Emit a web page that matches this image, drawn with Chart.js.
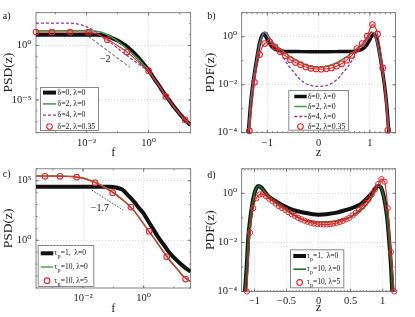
<!DOCTYPE html>
<html>
<head>
<meta charset="utf-8">
<script src="https://cdn.jsdelivr.net/npm/chart.js@4.4.0/dist/chart.umd.min.js"></script>
<style>
  html, body { margin: 0; padding: 0; background: #fff; }
  #wrap { position: relative; width: 415px; height: 317px; overflow: hidden; }
  canvas { position: absolute; }
</style>
</head>
<body>
<div id="wrap">
  <canvas id="chartA" width="200" height="162" style="left:0;top:0"></canvas>
  <canvas id="chartB" width="215" height="162" style="left:200px;top:0"></canvas>
  <canvas id="chartC" width="200" height="159" style="left:0;top:158px"></canvas>
  <canvas id="chartD" width="215" height="159" style="left:200px;top:158px"></canvas>
</div>
<script>
const SERIF = "'Liberation Serif', 'DejaVu Serif', serif";

/* Panel a - PSD, delta / lambda */
const fA = [2.34e-4, 5e-4, 1e-3, 2e-3, 5e-3, 0.01, 0.02, 0.03, 0.05, 0.07, 0.1, 0.15, 0.2, 0.3, 0.5, 0.7, 1, 1.5, 2, 3, 5, 7, 10, 15, 22.9];
const psdA_d0 = [9.5, 9.5, 9.5, 9.5, 9.5, 9.5, 9.4, 8.9, 6.6, 4.5, 2.8, 1.4, 0.8, 0.28, 0.063, 0.019, 5.6e-3, 9.5e-4, 3e-4, 5.2e-5, 7e-6, 1.9e-6, 5.6e-7, 1.5e-7, 5e-8];
const psdA_d2 = [22, 22, 22, 22, 22, 22, 20, 16, 8.9, 5, 2.5, 1.0, 0.5, 0.18, 0.045, 0.016, 5e-3, 8.9e-4, 2.8e-4, 5e-5, 7e-6, 1.9e-6, 5.6e-7, 1.5e-7, 5e-8];
const psdA_d4 = [112, 112, 112, 112, 95, 52, 17.8, 6.3, 2.8, 1.26, 0.56, 0.22, 0.126, 0.05, 0.018, 8.9e-3, 4e-3, 8.9e-4, 2.8e-4, 5e-5, 7e-6, 1.9e-6, 5.6e-7, 1.5e-7, 5e-8];
const psdA_d2l = [17, 17, 17, 17, 17, 16.6, 12.6, 7.1, 3.3, 1.8, 1.0, 0.45, 0.25, 0.1, 0.025, 0.011, 4.8e-3, 8.9e-4, 2.8e-4, 5e-5, 7e-6, 1.9e-6, 5.6e-7, 1.5e-7, 5e-8];
const fA_marks = [2.34e-4, 7.6e-4, 2.95e-3, 0.0115, 0.047, 0.2, 1.0, 3.6, 15.1];
const psdA_marks = [17, 17, 17, 16.5, 3.3, 0.25, 4.8e-3, 2.1e-5, 1.5e-7];
const slopeA_f = [0.0115, 0.25];
const slopeA_psd = [6.8, 0.01];
const xTicksA = [1e-2, 1];
const yTicksA = [1e-5, 1];

/* Panel b - PDF, delta / lambda */
const zB_d0 = [-1.37, -1.33, -1.29, -1.25, -1.21, -1.16, -1.12, -1.08, -1.04, -1.0, -0.95, -0.9, -0.82, -0.7, -0.4, 0, 0.4, 0.7, 0.82, 0.9, 0.95, 1.0, 1.04, 1.08, 1.12, 1.16, 1.21, 1.25, 1.29, 1.33, 1.37];
const pdfB_d0 = [1e-4, 1.3e-3, 8e-3, 0.032, 0.11, 0.45, 0.95, 1.3, 1.1, 0.76, 0.5, 0.36, 0.28, 0.25, 0.24, 0.235, 0.24, 0.25, 0.28, 0.36, 0.5, 0.76, 1.1, 1.3, 0.95, 0.45, 0.11, 0.032, 8e-3, 1.3e-3, 1e-4];
const zB_d2 = [-1.37, -1.33, -1.29, -1.25, -1.2, -1.15, -1.1, -1.06, -1.03, -1.0, -0.97, -0.92, -0.87, -0.77, -0.64, -0.51, -0.38, -0.26, -0.13, 0, 0.13, 0.26, 0.38, 0.51, 0.64, 0.77, 0.87, 0.92, 0.97, 1.0, 1.03, 1.06, 1.1, 1.15, 1.2, 1.25, 1.29, 1.33, 1.37];
const pdfB_d2 = [1e-4, 1.3e-3, 8e-3, 0.032, 0.13, 0.5, 1.05, 1.5, 1.55, 1.3, 1.0, 0.7, 0.5, 0.34, 0.2, 0.13, 0.09, 0.068, 0.057, 0.052, 0.057, 0.068, 0.09, 0.13, 0.2, 0.34, 0.5, 0.7, 1.0, 1.3, 1.55, 1.5, 1.05, 0.5, 0.13, 0.032, 8e-3, 1.3e-3, 1e-4];
const zB_d4 = [-1.37, -1.33, -1.29, -1.25, -1.2, -1.15, -1.1, -1.06, -1.03, -1.0, -0.97, -0.92, -0.87, -0.77, -0.68, -0.58, -0.48, -0.39, -0.2, 0, 0.2, 0.39, 0.48, 0.58, 0.68, 0.77, 0.87, 0.92, 0.97, 1.0, 1.03, 1.06, 1.1, 1.15, 1.2, 1.25, 1.29, 1.33, 1.37];
const pdfB_d4 = [1e-4, 1.3e-3, 8e-3, 0.032, 0.13, 0.5, 1.1, 1.55, 1.6, 1.35, 1.0, 0.65, 0.45, 0.29, 0.13, 0.06, 0.033, 0.019, 0.01, 0.0085, 0.01, 0.019, 0.033, 0.06, 0.13, 0.29, 0.45, 0.65, 1.0, 1.35, 1.6, 1.55, 1.1, 0.5, 0.13, 0.032, 8e-3, 1.3e-3, 1e-4];
const zB_d2l = [-1.35, -1.25, -1.15, -1.05, -0.95, -0.85, -0.75, -0.65, -0.55, -0.45, -0.35, -0.25, -0.15, -0.05, 0.05, 0.15, 0.25, 0.35, 0.45, 0.55, 0.65, 0.75, 0.85, 0.95, 1.05, 1.15, 1.25, 1.35];
const pdfB_d2l = [1.2e-4, 0.0126, 0.18, 0.52, 0.6, 0.38, 0.24, 0.16, 0.11, 0.085, 0.068, 0.055, 0.048, 0.045, 0.044, 0.046, 0.05, 0.059, 0.074, 0.105, 0.166, 0.32, 0.52, 1.05, 3.2, 1.3, 0.05, 1.26e-4];
const xTicksB = [-1, 0, 1];
const yTicksB = [1e-4, 1e-2, 1];

/* Panel c - PSD, tau_p / lambda */
const fC = [2.82e-4, 5e-4, 1e-3, 2e-3, 5e-3, 0.01, 0.02, 0.03, 0.05, 0.07, 0.1, 0.15, 0.2, 0.3, 0.5, 0.7, 1, 1.5, 2, 3, 5, 7, 10, 15, 20, 35.5];
const psdC_tp1 = [31600, 31600, 31600, 31600, 31600, 31600, 31600, 31600, 31600, 30900, 29500, 23400, 17800, 6300, 1550, 510, 174, 31.6, 10, 1.86, 0.316, 0.093, 0.035, 0.013, 6.8e-3, 2.4e-3];
const psdC_tp10 = [2.6e5, 2.6e5, 2.6e5, 2.55e5, 2.3e5, 1.75e5, 9.5e4, 6.2e4, 3.0e4, 1.85e4, 1.04e4, 4800, 2700, 1120, 280, 88, 25, 5.8, 2.25, 0.5, 0.08, 0.025, 8.5e-3, 2.5e-3, 1.07e-3, 3.6e-4];
const psdC_tp10l = [2.34e5, 2.34e5, 2.34e5, 2.29e5, 2.09e5, 1.58e5, 8.5e4, 5.5e4, 2.7e4, 1.66e4, 9300, 4270, 2400, 1000, 251, 79, 22.4, 5.2, 2.0, 0.45, 0.071, 0.022, 7.6e-3, 2.2e-3, 9.5e-4, 3.2e-4];
const fC_marks = [5.6e-4, 1.74e-3, 6.2e-3, 0.025, 0.095, 0.38, 1.51, 5.75, 24];
const psdC_marks = [2.34e5, 2.34e5, 2.0e5, 6.8e4, 1.0e4, 620, 5.8, 0.042, 5.6e-4];
const slopeC_f = [0.0195, 0.21];
const slopeC_psd = [16200, 350];
const xTicksC = [1e-2, 1];
const yTicksC = [1, 1e5];

/* Panel d - PDF, tau_p / lambda */
const zD_tp1 = [-1.15, -1.12, -1.1, -1.07, -1.04, -1.0, -0.97, -0.94, -0.9, -0.85, -0.78, -0.65, -0.53, -0.4, -0.26, 0, 0.26, 0.4, 0.52, 0.65, 0.73, 0.83, 0.93, 0.98, 1.03, 1.07, 1.1, 1.13, 1.15];
const pdfD_tp1 = [1e-4, 1.3e-3, 0.013, 0.08, 0.3, 1.0, 1.66, 2.0, 1.8, 1.26, 0.74, 0.45, 0.3, 0.21, 0.17, 0.135, 0.16, 0.2, 0.25, 0.35, 0.54, 1.0, 2.0, 1.6, 0.5, 0.1, 0.0126, 1e-3, 1e-4];
const zD_tp10 = [-1.15, -1.12, -1.1, -1.07, -1.04, -1.0, -0.97, -0.94, -0.9, -0.85, -0.78, -0.65, -0.53, -0.4, -0.26, -0.13, 0, 0.13, 0.26, 0.4, 0.52, 0.65, 0.73, 0.83, 0.93, 0.98, 1.03, 1.07, 1.1, 1.13, 1.15];
const pdfD_tp10 = [1e-4, 1.3e-3, 0.013, 0.08, 0.3, 1.0, 1.66, 2.0, 1.8, 1.26, 0.7, 0.4, 0.25, 0.14, 0.089, 0.074, 0.068, 0.069, 0.074, 0.089, 0.117, 0.2, 0.3, 0.7, 2.0, 1.6, 0.5, 0.1, 0.0126, 1e-3, 1e-4];
const zD_tp10l = [-1.12, -1.07, -1.02, -0.97, -0.92, -0.87, -0.82, -0.77, -0.72, -0.67, -0.62, -0.57, -0.52, -0.47, -0.42, -0.37, -0.32, -0.27, -0.22, -0.17, -0.12, -0.07, -0.02, 0.03, 0.08, 0.13, 0.18, 0.23, 0.28, 0.33, 0.38, 0.43, 0.48, 0.53, 0.58, 0.63, 0.68, 0.73, 0.78, 0.83, 0.88, 0.93, 0.98, 1.03, 1.08, 1.13, 1.18];
const pdfD_tp10l = [1e-4, 0.025, 0.25, 0.63, 0.91, 0.93, 0.76, 0.6, 0.48, 0.38, 0.3, 0.25, 0.21, 0.17, 0.14, 0.12, 0.1, 0.088, 0.077, 0.069, 0.063, 0.059, 0.056, 0.055, 0.054, 0.054, 0.055, 0.058, 0.062, 0.068, 0.076, 0.087, 0.1, 0.126, 0.16, 0.21, 0.28, 0.4, 0.56, 0.9, 1.4, 2.4, 3.8, 3.0, 0.25, 4e-3, 1e-4];
const xTicksD = [-1, -0.5, 0, 0.5, 1];
const yTicksD = [1e-4, 1e-2, 1];

const RED = '#e0262c';
const PURPLE = '#8b3a9c';
const BLACK = '#111111';

function pts(xs, ys) {
  return xs.map(function(x, i) { return {x: x, y: ys[i]}; });
}

const SUP = {'0': '⁰', '1': '¹', '2': '²', '3': '³', '4': '⁴', '5': '⁵', '6': '⁶', '7': '⁷', '8': '⁸', '9': '⁹', '-': '⁻'};
function pow10Label(v) {
  const e = String(Math.round(Math.log10(v)));
  return '10' + e.split('').map(function(c) { return SUP[c]; }).join('');
}
function linLabel(v) {
  return v < 0 ? '\u2212' + Math.abs(v) : String(v);
}

// label text, '_p' is drawn as subscript p
function drawLabel(ctx, text, x, y, size) {
  ctx.fillStyle = '#111';
  ctx.textBaseline = 'middle';
  ctx.textAlign = 'left';
  const parts = text.split('_p');
  ctx.font = size + 'px ' + SERIF;
  ctx.fillText(parts[0], x, y);
  if (parts.length < 2) return;
  let cx = x + ctx.measureText(parts[0]).width;
  ctx.font = (size * 0.8) + 'px ' + SERIF;
  ctx.fillText('p', cx + 0.2, y + size * 0.45);
  cx += ctx.measureText('p').width + 0.4;
  ctx.font = size + 'px ' + SERIF;
  ctx.fillText(parts[1], cx, y);
}

/* frame with inward ticks */
const framePlugin = {
  id: 'frame',
  beforeDatasetsDraw(chart, args, opts) {
    const ctx = chart.ctx;
    const a = chart.chartArea;
    const sx = chart.scales.x;
    const sy = chart.scales.y;
    ctx.save();
    ctx.strokeStyle = '#666';
    ctx.lineWidth = 0.8;
    ctx.strokeRect(a.left, a.top, a.right - a.left, a.bottom - a.top);
    ctx.beginPath();
    function xTick(v, len) {
      const p = sx.getPixelForValue(v);
      if (p < a.left || p > a.right) return;
      ctx.moveTo(p, a.bottom); ctx.lineTo(p, a.bottom - len);
      ctx.moveTo(p, a.top); ctx.lineTo(p, a.top + len);
    }
    function yTick(v, len) {
      const p = sy.getPixelForValue(v);
      if (p < a.top || p > a.bottom) return;
      ctx.moveTo(a.left, p); ctx.lineTo(a.left + len, p);
      ctx.moveTo(a.right, p); ctx.lineTo(a.right - len, p);
    }
    sx.ticks.forEach(function(t) { xTick(t.value, 3); });
    sy.ticks.forEach(function(t) { yTick(t.value, 3); });
    if (opts.xStep) {
      for (let v = Math.ceil(sx.min / opts.xStep) * opts.xStep; v <= sx.max; v += opts.xStep) xTick(v, 1.5);
    }
    [sx, sy].forEach(function(s) {
      if (s.type !== 'logarithmic') return;
      for (let k = Math.floor(Math.log10(s.min)); k <= Math.ceil(Math.log10(s.max)); k++) {
        if (s === sx) xTick(Math.pow(10, k), 1.5); else yTick(Math.pow(10, k), 1.5);
      }
    });
    ctx.stroke();
    ctx.restore();
  }
};

/* boxed legend inside the plot */
const legendPlugin = {
  id: 'boxLegend',
  afterDatasetsDraw(chart, args, o) {
    const ctx = chart.ctx;
    const items = chart.data.datasets.filter(function(d) { return d.legendKind; });
    ctx.save();
    ctx.fillStyle = '#fff';
    ctx.fillRect(o.x, o.y, o.w, o.h);
    ctx.strokeStyle = '#8a8a8a';
    ctx.lineWidth = 1;
    ctx.strokeRect(o.x + 0.5, o.y + 0.5, o.w - 1, o.h - 1);
    items.forEach(function(d, i) {
      const cy = o.row0 + i * o.rowH;
      if (d.legendKind === 'marker') {
        ctx.beginPath();
        ctx.arc((o.lx0 + o.lx1) / 2, cy, 2.8, 0, 2 * Math.PI);
        ctx.strokeStyle = RED;
        ctx.lineWidth = 1.1;
        ctx.stroke();
      } else {
        ctx.beginPath();
        ctx.setLineDash(d.borderDash || []);
        ctx.moveTo(o.lx0, cy);
        ctx.lineTo(o.lx1, cy);
        ctx.strokeStyle = d.borderColor;
        ctx.lineWidth = d.borderWidth;
        ctx.stroke();
        ctx.setLineDash([]);
      }
      drawLabel(ctx, d.label, o.tx, cy, o.size);
    });
    ctx.restore();
  }
};

/* panel letters and slope labels */
const notesPlugin = {
  id: 'notes',
  afterDatasetsDraw(chart, args, opts) {
    const ctx = chart.ctx;
    ctx.save();
    ctx.fillStyle = '#111';
    ctx.textBaseline = 'middle';
    opts.items.forEach(function(n) {
      ctx.font = n.size + 'px ' + SERIF;
      let x = n.x, y = n.y;
      if (n.data) {
        x = chart.scales.x.getPixelForValue(n.x);
        y = chart.scales.y.getPixelForValue(n.y);
        ctx.textAlign = 'center';
      } else {
        ctx.textAlign = 'left';
      }
      ctx.fillText(n.text, x, y);
    });
    ctx.restore();
  }
};

function buildChart(canvasId, p) {
  return new Chart(document.getElementById(canvasId), {
    type: 'line',
    data: {datasets: p.datasets},
    options: {
      responsive: false,
      animation: false,
      devicePixelRatio: 1,
      layout: {padding: {left: 0, top: p.top, right: p.right, bottom: 0}},
      elements: {
        point: {radius: 0, hoverRadius: 0},
        line: {cubicInterpolationMode: 'monotone', fill: false, borderCapStyle: 'butt'}
      },
      scales: {
        x: {
          type: p.xType, min: p.xMin, max: p.xMax,
          afterFit: function(s) { s.height = p.xH; },
          afterBuildTicks: function(s) { s.ticks = p.xTicks.map(function(v) { return {value: v}; }); },
          ticks: {
            callback: p.xType === 'logarithmic' ? pow10Label : linLabel,
            font: {family: SERIF, size: 10.5}, color: '#222',
            padding: p.xTickPad, maxRotation: 0, autoSkip: false
          },
          grid: {color: '#c8c8c8', lineWidth: 0.7, drawTicks: false},
          border: {display: false, dash: [1, 2]},
          title: {display: true, text: p.xTitle, color: '#222',
            font: {family: SERIF, size: 12.5, lineHeight: 1},
            padding: {top: 0, bottom: p.xTitlePad}}
        },
        y: {
          type: 'logarithmic', min: p.yMin, max: p.yMax,
          afterFit: function(s) { s.width = p.yW; },
          afterBuildTicks: function(s) { s.ticks = p.yTicks.map(function(v) { return {value: v}; }); },
          ticks: {
            callback: pow10Label,
            font: {family: SERIF, size: 10.5}, color: '#222',
            padding: 4.5, autoSkip: false
          },
          grid: {color: '#c8c8c8', lineWidth: 0.7, drawTicks: false},
          border: {display: false, dash: [1, 2]},
          title: {display: true, text: p.yTitle, color: '#222',
            font: {family: SERIF, size: 13.5, lineHeight: 1},
            padding: {top: p.yTitlePad, bottom: 0}}
        }
      },
      plugins: {
        legend: {display: false},
        tooltip: {enabled: false},
        frame: {xStep: p.xStep},
        boxLegend: p.legend,
        notes: {items: p.notes}
      }
    },
    plugins: [framePlugin, legendPlugin, notesPlugin]
  });
}

function markers(xs, ys, order) {
  return {label: 'markers', data: pts(xs, ys), showLine: false, pointRadius: 2.8,
    pointStyle: 'circle', pointBorderColor: RED, pointBorderWidth: 1.1,
    pointBackgroundColor: 'rgba(0,0,0,0)', borderColor: RED, order: order, clip: 6};
}

// a)
buildChart('chartA', {
  top: 12.7, right: 9.3, xH: 29.3, yW: 36, xTickPad: 4.3, xTitlePad: 2.7, yTitlePad: 1.5,
  xType: 'logarithmic', xMin: 2.34e-4, xMax: 22.9, xTicks: xTicksA, xTitle: 'f',
  yMin: 1e-8, yMax: 1e3, yTicks: yTicksA, yTitle: 'PSD(z)',
  datasets: [
    {label: 'δ=0, λ=0', data: pts(fA, psdA_d0), borderColor: BLACK, borderWidth: 4, legendKind: 'line', order: 6},
    {label: 'δ=2, λ=0', data: pts(fA, psdA_d2), borderColor: '#3f9a48', borderWidth: 1.5, legendKind: 'line', order: 5},
    {label: 'δ=4, λ=0', data: pts(fA, psdA_d4), borderColor: PURPLE, borderWidth: 1.3, borderDash: [3, 2], legendKind: 'line', order: 4},
    {label: 'red line', data: pts(fA, psdA_d2l), borderColor: RED, borderWidth: 1.1, order: 3},
    Object.assign(markers(fA_marks, psdA_marks, 2), {label: 'δ=2, λ=0.35', legendKind: 'marker'}),
    {label: 'slope', data: pts(slopeA_f, slopeA_psd), borderColor: '#333', borderWidth: 0.9, borderDash: [3, 2], order: 7}
  ],
  legend: {x: 40, y: 87, w: 59, h: 44, row0: 92.6, rowH: 11.3, lx0: 43, lx1: 56, tx: 57.5, size: 7.8},
  notes: [
    {text: 'a)', x: 2.7, y: 16.5, size: 10},
    {text: '\u22122', x: 0.04, y: 0.049, size: 10, data: true}
  ]
});

// b)
buildChart('chartB', {
  top: 12.7, right: 19.5, xH: 29.3, yW: 41.7, xTickPad: 4.3, xTitlePad: 2.7, yTitlePad: 4,
  xType: 'linear', xMin: -1.5, xMax: 1.5, xTicks: xTicksB, xTitle: 'z', xStep: 0.1,
  yMin: 1e-4, yMax: 10, yTicks: yTicksB, yTitle: 'PDF(z)',
  datasets: [
    {label: 'δ=0, λ=0', data: pts(zB_d0, pdfB_d0), borderColor: BLACK, borderWidth: 3.5, legendKind: 'line', order: 6},
    {label: 'δ=2, λ=0', data: pts(zB_d2, pdfB_d2), borderColor: '#3f9a48', borderWidth: 1.5, legendKind: 'line', order: 5},
    {label: 'δ=4, λ=0', data: pts(zB_d4, pdfB_d4), borderColor: PURPLE, borderWidth: 1.3, borderDash: [3, 2], legendKind: 'line', order: 4},
    {label: 'δ=2, λ=0.35', data: pts(zB_d2l, pdfB_d2l), borderColor: RED, borderWidth: 1.1,
      pointRadius: 2.8, pointBorderColor: RED, pointBorderWidth: 1.1, pointBackgroundColor: 'rgba(0,0,0,0)',
      legendKind: 'marker', order: 2, clip: 6}
  ],
  legend: {x: 88.3, y: 90, w: 60.7, h: 40.7, row0: 96.5, rowH: 10, lx0: 94.3, lx1: 106.7, tx: 107.7, size: 7.8},
  notes: [
    {text: 'b)', x: 7.3, y: 16, size: 10}
  ]
});

// c)
buildChart('chartC', {
  top: 10.3, right: 9.3, xH: 29, yW: 36, xTickPad: 4, xTitlePad: 1.7, yTitlePad: 1.5,
  xType: 'logarithmic', xMin: 2.82e-4, xMax: 35.5, xTicks: xTicksC, xTitle: 'f',
  yMin: 1e-4, yMax: 1e6, yTicks: yTicksC, yTitle: 'PSD(z)',
  datasets: [
    {label: 'τ_p=1,  λ=0', data: pts(fC, psdC_tp1), borderColor: BLACK, borderWidth: 4, legendKind: 'line', order: 6},
    {label: 'τ_p=10, λ=0', data: pts(fC, psdC_tp10), borderColor: '#55a255', borderWidth: 1.5, legendKind: 'line', order: 5},
    {label: 'red line', data: pts(fC, psdC_tp10l), borderColor: RED, borderWidth: 1.1, order: 3},
    Object.assign(markers(fC_marks, psdC_marks, 2), {label: 'τ_p=10, λ=5', legendKind: 'marker'}),
    {label: 'slope', data: pts(slopeC_f, slopeC_psd), borderColor: '#333', borderWidth: 0.9, borderDash: [1.5, 1.5], order: 7}
  ],
  legend: {x: 37.7, y: 87, w: 56.6, h: 42, row0: 95.3, rowH: 13.7, lx0: 40.7, lx1: 53.3, tx: 54.3, size: 7.5},
  notes: [
    {text: 'c)', x: 2.7, y: 16, size: 10},
    {text: '\u22121.7', x: 0.036, y: 480, size: 10, data: true}
  ]
});

// d)
buildChart('chartD', {
  top: 10.3, right: 19.5, xH: 25.5, yW: 41.7, xTickPad: 3.2, xTitlePad: 2.7, yTitlePad: 4,
  xType: 'linear', xMin: -1.2, xMax: 1.2, xTicks: xTicksD, xTitle: 'z', xStep: 0.05,
  yMin: 1e-4, yMax: 10, yTicks: yTicksD, yTitle: 'PDF(z)',
  datasets: [
    {label: 'τ_p=1,  λ=0', data: pts(zD_tp1, pdfD_tp1), borderColor: BLACK, borderWidth: 4, legendKind: 'line', order: 6},
    {label: 'τ_p=10, λ=0', data: pts(zD_tp10, pdfD_tp10), borderColor: '#1f6e2c', borderWidth: 1.6, legendKind: 'line', order: 5},
    {label: 'τ_p=10, λ=5', data: pts(zD_tp10l, pdfD_tp10l), borderColor: RED, borderWidth: 1.1,
      pointRadius: 2.6, pointBorderColor: RED, pointBorderWidth: 1, pointBackgroundColor: 'rgba(0,0,0,0)',
      legendKind: 'marker', order: 2, clip: 6}
  ],
  legend: {x: 90, y: 91.3, w: 54.3, h: 39, row0: 98, rowH: 13.2, lx0: 93.3, lx1: 106, tx: 106.7, size: 7.5},
  notes: [
    {text: 'd)', x: 7.3, y: 17, size: 10}
  ]
});
</script>
</body>
</html>
